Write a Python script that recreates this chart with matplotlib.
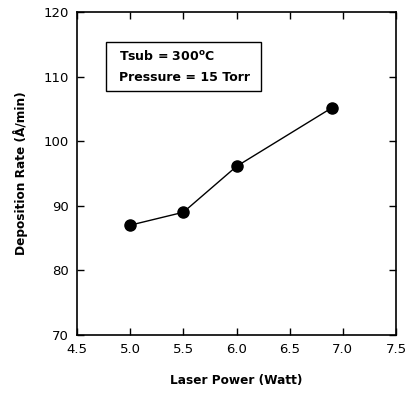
import matplotlib.pyplot as plt
from matplotlib.patches import Rectangle

# Messwerte
laser_power = [5.0, 5.5, 6.0, 6.9]
dep_rate = [87.0, 89.0, 96.1, 105.2]

x_ticks = [4.5, 5.0, 5.5, 6.0, 6.5, 7.0, 7.5]
y_ticks = [70, 80, 90, 100, 110, 120]

fig = plt.figure(figsize=(4.10, 3.93), dpi=100)
ax = fig.add_axes([77 / 410, 1 - 335 / 393, 319 / 410, 323 / 393])

ax.plot(laser_power, dep_rate, 'k-', lw=1.0, marker='o', ms=8)

ax.set_xlim(4.5, 7.5)
ax.set_ylim(70, 120)
ax.set_xticks(x_ticks)
ax.set_xticklabels(['%.1f' % v for v in x_ticks])
ax.set_yticks(y_ticks)
ax.tick_params(direction='in', top=True, right=True, length=5, width=1.0,
               labelsize=9.5)
ax.tick_params(axis='x', pad=6)
ax.tick_params(axis='y', pad=6)
for s in ax.spines.values():
    s.set_linewidth(1.2)

ax.set_xlabel('Laser Power (Watt)', fontweight='bold', fontsize=8.7, labelpad=13)
ax.set_ylabel('Deposition Rate (Å/min)', fontweight='bold', fontsize=8.7, labelpad=11)

# Textfeld mit Prozessbedingungen
ax.add_patch(Rectangle((4.77, 107.8), 1.46, 7.6, fc='white', ec='black', lw=1.0))
ax.text(4.895, 113.2, 'Tsub = 300$^{\\mathbf{o}}$C', fontweight='bold', fontsize=9,
        va='center', ha='left')
ax.text(4.895, 109.9, 'Pressure = 15 Torr', fontweight='bold', fontsize=9,
        va='center', ha='left')

fig.savefig('out.png', dpi=100)
